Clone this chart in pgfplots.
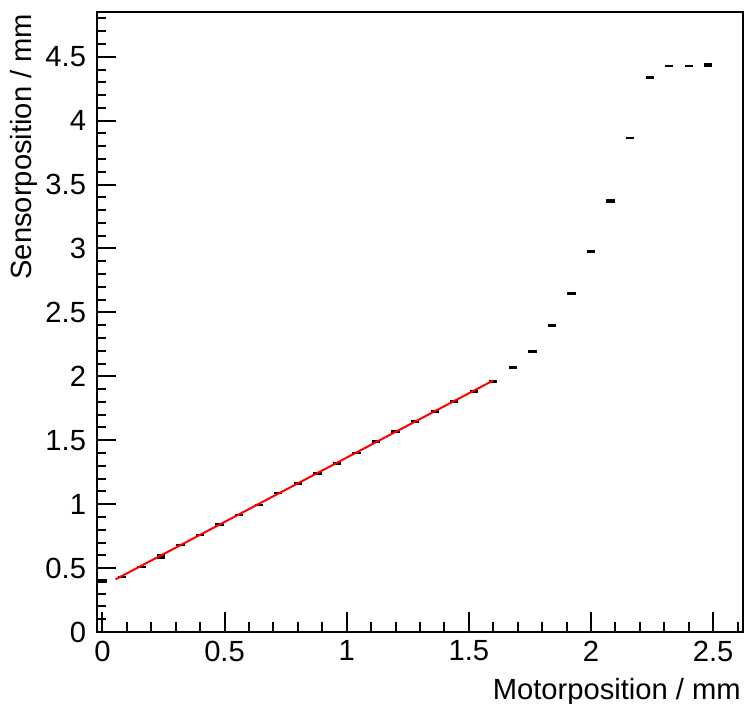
\documentclass[border=0pt]{standalone}
\usepackage{fontspec}
\setmainfont{Liberation Sans}
\usepackage{pgfplots}
\pgfplotsset{compat=1.18}
\begin{document}
\fontsize{8.3}{10}\selectfont
\begin{tikzpicture}
\begin{axis}[
  width=64.6mm, height=62mm, scale only axis,
  xmin=-0.022, xmax=2.622, ymin=0, ymax=4.85,
  axis line style={line width=0.2mm},
  xtick={0,0.5,1,1.5,2,2.5},
  xticklabels={0,0.5,1,1.5,2,2.5},
  ytick={0,0.5,1,1.5,2,2.5,3,3.5,4,4.5},
  yticklabels={0,0.5,1,1.5,2,2.5,3,3.5,4,4.5},
  minor xtick={0.1,0.2,0.3,0.4,0.6,0.7,0.8,0.9,1.1,1.2,1.3,1.4,1.6,1.7,1.8,1.9,2.1,2.2,2.3,2.4,2.6},
  minor ytick={0.1,0.2,0.3,0.4,0.6,0.7,0.8,0.9,1.1,1.2,1.3,1.4,1.6,1.7,1.8,1.9,2.1,2.2,2.3,2.4,2.6,2.7,2.8,2.9,3.1,3.2,3.3,3.4,3.6,3.7,3.8,3.9,4.1,4.2,4.3,4.4,4.6,4.7,4.8},
  tick align=inside, xtick pos=bottom, ytick pos=left,
  major tick length=1.95mm, minor tick length=0.95mm,
  every tick/.style={line width=0.2mm, black},
  xticklabel style={inner sep=0pt, anchor=north, yshift=-0.8mm},
  yticklabel style={inner sep=0pt, anchor=east, xshift=-1.03mm},
  /pgf/number format/assume math mode=true,
  xlabel={Motorposition / mm},
  ylabel={Sensorposition / mm},
  xlabel style={at={([yshift=-6.8mm,xshift=-0.15mm]rel axis cs:1,0)}, anchor=base east, inner sep=0pt},
  ylabel style={at={([xshift=-6.55mm,yshift=-0.1mm]rel axis cs:0,1)}, anchor=base east, inner sep=0pt},
  clip=false,
]
% normal points
\addplot[draw=none, mark=none, error bars/.cd, x dir=both, x fixed=0.017, error mark=none,
  error bar style={draw=black, line width=0.27mm}] coordinates {
(0.08,0.430) (0.16,0.508) (0.32,0.680) (0.40,0.758) (0.48,0.839) (0.56,0.915)
(0.64,0.993) (0.72,1.088) (0.80,1.163) (0.88,1.241) (0.96,1.319) (1.04,1.400)
(1.12,1.491) (1.20,1.569) (1.28,1.647) (1.36,1.725) (1.44,1.804) (1.52,1.884)
(1.60,1.962) (1.68,2.070) (1.76,2.195) (1.84,2.398) (1.92,2.648) (2.00,2.977)
(2.16,3.865) (2.24,4.337) (2.32,4.428) (2.40,4.428)
};
% thicker points
\addplot[draw=none, mark=none, error bars/.cd, x dir=both, x fixed=0.017, error mark=none,
  error bar style={draw=black, line width=0.47mm}] coordinates {
(0.00,0.399) (0.24,0.592) (2.08,3.372) (2.48,4.436)
};
% fit line
\addplot[red, line width=0.2mm, mark=none] coordinates {(0.054,0.412) (1.600,1.968)};
\end{axis}
\pgfresetboundingbox
\path ([shift={(-9.7mm,-7.2mm)}]current axis.south west) rectangle ([shift={(0.4mm,1.2mm)}]current axis.north east);
\end{tikzpicture}
\end{document}
